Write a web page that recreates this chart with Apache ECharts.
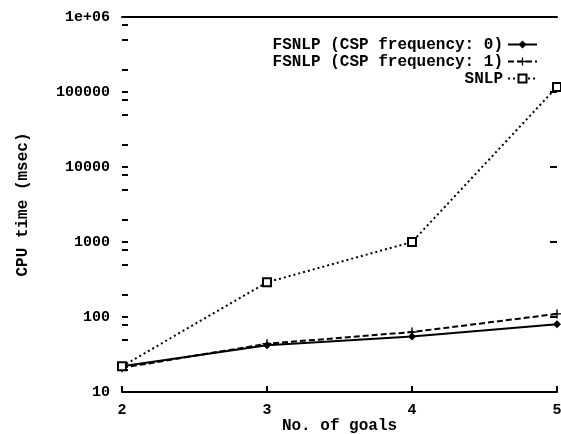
<!DOCTYPE html>
<html><head><meta charset="utf-8">
<script src="https://cdn.jsdelivr.net/npm/echarts@6/dist/echarts.min.js"></script>
<style>html,body{margin:0;padding:0;background:#fff}#c{width:561px;height:434px}</style>
</head><body><div id="c"></div>
<script>
const goals = [2, 3, 4, 5];
const fsnlp0 = [22, 42, 55, 80];
const fsnlp1 = [21, 44, 63, 110];
const snlp = [22, 290, 1000, 117000];
const seriesNames = ['FSNLP (CSP frequency: 0)', 'FSNLP (CSP frequency: 1)', 'SNLP'];
const xTicks = [2, 3, 4, 5];
const yMajor = [10, 100, 1000, 10000, 100000, 1000000];
const yMinor = [];
yMajor.slice(0, -1).forEach(d => { yMinor.push(d * 2, d * 5, d * 8); });

const font = 'Liberation Mono';
const pair = arr => goals.map((g, i) => [g, arr[i]]);
const chart = echarts.init(document.getElementById('c'), null, {renderer: 'canvas'});
const grid = {left: 122, right: 4, top: 17, bottom: 42, containLabel: false, outerBoundsMode: 'none'};
const plusPath = 'path://M4.2,0H5.8V4.2H10V5.8H5.8V10H4.2V5.8H0V4.2H4.2Z';
chart.setOption({
  animation: false,
  backgroundColor: '#fff',
  grid: grid,
  legend: {
    orient: 'vertical', right: 23, top: 36, align: 'right', padding: 0,
    itemGap: 0, itemWidth: 29, itemHeight: 10,
    textStyle: {fontFamily: font, fontWeight: 'bold', fontSize: 16, lineHeight: 17, color: '#000'},
    data: seriesNames
  },
  xAxis: [{
    type: 'value', min: 2, max: 5, interval: 1,
    name: 'No. of goals', nameLocation: 'middle', nameGap: 26, nameMoveOverlap: false,
    nameTextStyle: {fontFamily: font, fontWeight: 'bold', fontSize: 16, color: '#000'},
    axisLine: {show: true, lineStyle: {color: '#000', width: 2}},
    axisTick: {show: true, inside: true, length: 6, lineStyle: {color: '#000', width: 2}},
    axisLabel: {fontFamily: font, fontWeight: 'bold', fontSize: 15, color: '#000', margin: 11},
    splitLine: {show: false}
  }, {
    type: 'value', min: 2, max: 5, interval: 1, position: 'top',
    axisLine: {show: true, lineStyle: {color: '#000', width: 2}},
    axisTick: {show: false}, axisLabel: {show: false}, splitLine: {show: false}
  }],
  yAxis: [{
    type: 'log', min: 10, max: 1000000, logBase: 10,
    name: 'CPU time (msec)', nameLocation: 'middle', nameGap: 91, nameMoveOverlap: false,
    nameTextStyle: {fontFamily: font, fontWeight: 'bold', fontSize: 16, color: '#000'},
    axisLine: {show: false},
    axisTick: {show: true, inside: true, length: 6, lineStyle: {color: '#000', width: 2}},
    axisLabel: {fontFamily: font, fontWeight: 'bold', fontSize: 15, color: '#000', margin: 12,
      formatter: v => (v >= 1000000 ? '1e+06' : String(Math.round(v)))},
    splitLine: {show: false}, minorTick: {show: false}
  }, {
    type: 'log', min: 10, max: 1000000, logBase: 10, position: 'left',
    axisLine: {show: false},
    axisTick: {show: true, inside: true, length: 6, customValues: yMinor, lineStyle: {color: '#000', width: 2}},
    axisLabel: {show: false}, splitLine: {show: false}
  }, {
    type: 'log', min: 10, max: 1000000, logBase: 10, position: 'right',
    axisLine: {show: false},
    axisTick: {show: true, inside: true, length: 7, lineStyle: {color: '#000', width: 2}},
    axisLabel: {show: false}, splitLine: {show: false}
  }],
  series: [{
    name: seriesNames[0], type: 'line', data: pair(fsnlp0),
    symbol: 'diamond', symbolSize: 8,
    itemStyle: {color: '#000'}, lineStyle: {color: '#000', width: 2, type: 'solid'}
  }, {
    name: seriesNames[1], type: 'line', data: pair(fsnlp1),
    symbol: plusPath, symbolSize: 9,
    itemStyle: {color: '#000'}, lineStyle: {color: '#000', width: 2, type: [6, 3]}
  }, {
    name: seriesNames[2], type: 'line', data: pair(snlp),
    symbol: 'rect', symbolSize: 8,
    itemStyle: {color: '#fff', borderColor: '#000', borderWidth: 2},
    lineStyle: {color: '#000', width: 2, type: [2, 3]}
  }]
});
</script></body></html>
